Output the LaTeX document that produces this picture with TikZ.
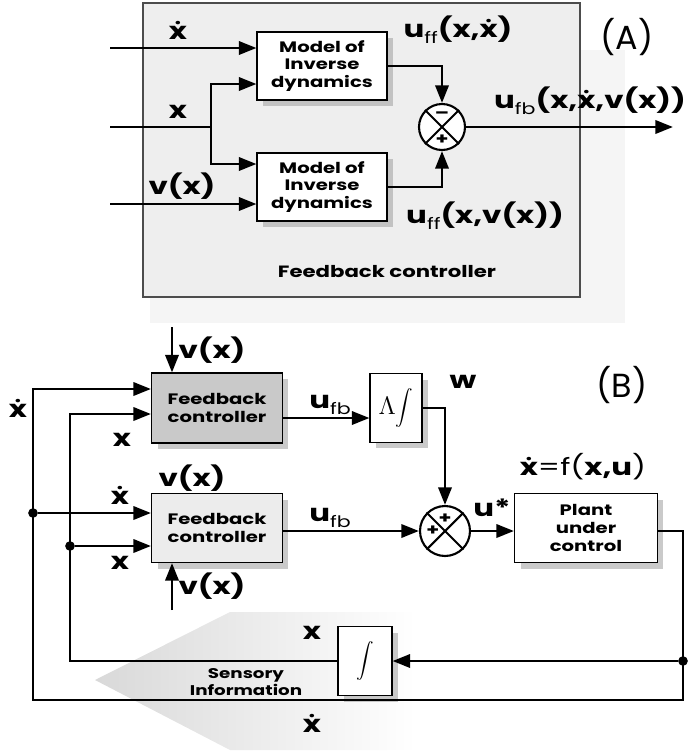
\documentclass[tikz,border=0pt]{standalone}
\usepackage{fontspec}
\newfontfamily\lblfont{Poppins}[FakeStretch=1.3]
\newfontfamily\tagfont{Poppins}
\usetikzlibrary{arrows.meta,shadows}
\newcommand\xd{\accent"02D9 x}
\newcommand\sbs[1]{\raisebox{-0.45ex}{\fontsize{9}{9}\selectfont\mdseries #1}}

\tikzset{
	blk/.style={draw, line width=0.6pt, fill=white, inner sep=0pt, align=center,
		font=\lblfont\fontsize{8.6}{10}\selectfont\bfseries,
		drop shadow={shadow xshift=0.12cm, shadow yshift=-0.12cm, fill=gray!70, opacity=0.6}},
	sumc/.style={draw, circle, line width=1.2pt, inner sep=0pt, fill=white},
	lbl/.style={font=\lblfont\fontsize{13.5}{15}\selectfont\bfseries, inner sep=0pt},
	sgn/.style={font=\lblfont\fontsize{9}{9}\selectfont\bfseries, inner sep=0pt},
	tag/.style={font=\tagfont\fontsize{19}{20}\selectfont, inner sep=0pt},
	wire/.style={line width=1.6pt},
	arr/.style={wire, -{Triangle[length=10pt,width=7.5pt]}},
	dot/.style={circle, fill, inner sep=0pt, minimum size=5.5pt}
}

\begin{document}
\begin{tikzpicture}[x=0.02cm, y=-0.02cm]
	%%%%% START %%%%%
	\useasboundingbox (0,0) rectangle (692,751);
	
	% sensory information arrow
	\shade[left color=gray!30, right color=white] (95,680) -- (230,612) -- (416,612) -- (416,750) -- (230,750) -- cycle;
	
	% panel (A)
	\fill[gray!8] (150,50) rectangle (625,323);
	\draw[fill=gray!13, draw=gray!60!black, line width=0.6pt] (143,3) rectangle (580,297);
	\node[lbl, font=\lblfont\fontsize{9.3}{10}\selectfont\bfseries] (capA) at (387,272) {Feedback controller};
	\node[tag] (tagA) at (627,37) {(A)};
	
	\node[blk, minimum width=2.6cm, minimum height=1.36cm] (mtop) at (322,66) {Model of\\Inverse\\dynamics};
	\node[blk, minimum width=2.6cm, minimum height=1.36cm] (mbot) at (322,187) {Model of\\Inverse\\dynamics};
	\node[sumc, minimum size=0.92cm] (sumA) at (442,127) {};
	\draw[line width=1.2pt] (sumA.north east) -- (sumA.south west);
	\draw[line width=1.2pt] (sumA.north west) -- (sumA.south east);
	\node[sgn] (sumAm) at ([yshift=7pt]sumA.center) {\textendash};
	\node[sgn] (sumAp) at ([yshift=-7pt]sumA.center) {+};
	
	\coordinate (inXd) at (110,48);
	\coordinate (inX) at (110,127);
	\coordinate (inV) at (110,204);
	\coordinate (jA) at (211,127);
	\coordinate (outA) at (673,127);
	
	\draw[arr] (inXd) -- (inXd -| mtop.west);
	\draw[wire] (inX) -- (jA);
	\draw[arr] (jA) |- (mtop.west |- 0,84);
	\draw[arr] (jA) |- (mbot.west |- 0,164);
	\draw[arr] (inV) -- (inV -| mbot.west);
	\draw[arr] (mtop.east) -| (sumA.north);
	\draw[arr] (mbot.east) -| (sumA.south);
	\draw[arr] (sumA.east) -- (outA);
	
	\node[lbl] (lXdA) at (178,30) {\xd};
	\node[lbl] (lXA) at (178,112) {x};
	\node[lbl] (lVA) at (182,186) {v(x)};
	\node[lbl] (lUffa) at (458,30) {u\sbs{ff}(x,\xd)};
	\node[lbl] (lUfbA) at (590,101) {u\sbs{fb}(x,\xd,v(x))};
	\node[lbl] (lUffb) at (485,216) {u\sbs{ff}(x,v(x))};
	
	% panel (B)
	\node[tag] (tagB) at (622,385) {(B)};
	\node[blk, fill=gray!42, minimum width=2.62cm, minimum height=1.4cm] (fbU) at (217,408) {Feedback\\controller};
	\node[blk, fill=gray!15, minimum width=2.62cm, minimum height=1.38cm] (fbL) at (217,528) {Feedback\\controller};
	\node[blk, font=\fontsize{14}{14}\selectfont, minimum width=1.04cm, minimum height=1.38cm] (lam) at (396,408) {$\Lambda\!\displaystyle\int$};
	\node[sumc, minimum size=1cm] (sumB) at (445,531) {};
	\draw[line width=1.2pt] (sumB.north east) -- (sumB.south west);
	\draw[line width=1.2pt] (sumB.north west) -- (sumB.south east);
	\node[sgn] (sumBt) at ([yshift=7pt]sumB.center) {+};
	\node[sgn] (sumBl) at ([xshift=-7pt]sumB.center) {+};
	\node[blk, minimum width=2.86cm, minimum height=1.38cm] (plant) at (586,528) {Plant\\under\\control};
	\node[blk, font=\fontsize{12}{12}\selectfont, minimum width=1.08cm, minimum height=1.38cm] (intg) at (365,661) {$\displaystyle\int$};
	
	\coordinate (vTop) at (172,327);
	\coordinate (vBot) at (172,610);
	\coordinate (xdTop) at (33,389);
	\coordinate (xdBot) at (33,700);
	\coordinate (xTop) at (70,414);
	\coordinate (brR) at (683,700);
	\node[dot] (dXd) at (33,513) {};
	\node[dot] (dX) at (70,546) {};
	\node[dot] (dR) at (683,661) {};
	
	\draw[arr] (vTop) -- (vTop |- fbU.north);
	\draw[arr] (vBot) -- (vBot |- fbL.south);
	\draw[arr] (dXd) -- (dXd -| fbL.west);
	\draw[arr] (dX) -- (dX -| fbL.west);
	\draw[arr] (fbU.east |- 0,418) -- (lam.west |- 0,418);
	\draw[arr] (lam.east) -| (sumB.north);
	\draw[arr] (fbL.east |- sumB.west) -- (sumB.west);
	\draw[arr] (sumB.east) -- (sumB.east -| plant.west);
	\draw[arr] (plant.east |- sumB.east) -| (brR) -- (xdBot) -- (xdTop) -- (xdTop -| fbU.west);
	\draw[arr] (dR) -- (intg.east);
	\draw[arr] (intg.west) -| (xTop) -- (xTop -| fbU.west);
	
	\node[lbl] (lVU) at (212,350) {v(x)};
	\node[lbl] (lXdL) at (18,408) {\xd};
	\node[lbl] (lXU) at (122,440) {x};
	\node[lbl] (lVM) at (192,478) {v(x)};
	\node[lbl] (lXdM) at (120,495) {\xd};
	\node[lbl] (lXM) at (120,563) {x};
	\node[lbl] (lVB) at (212,586) {v(x)};
	\node[lbl] (lUfbU) at (330,405) {u\sbs{fb}};
	\node[lbl] (lUfbL) at (330,518) {u\sbs{fb}};
	\node[lbl] (lW) at (463,382) {w};
	\node[lbl] (lUs) at (492,508) {u*};
	\node[lbl] (lPlant) at (583,467) {\xd{\mdseries=f(}x,u{\mdseries)}};
	\node[lbl] (lXI) at (312,633) {x};
	\node[lbl, font=\lblfont\fontsize{8}{9.5}\selectfont\bfseries, align=center] (lSens) at (246,682) {Sensory\\Information};
	\node[lbl] (lXdI) at (312,723) {\xd};
	
	%%%%% END %%%%%
\end{tikzpicture}
\end{document}
